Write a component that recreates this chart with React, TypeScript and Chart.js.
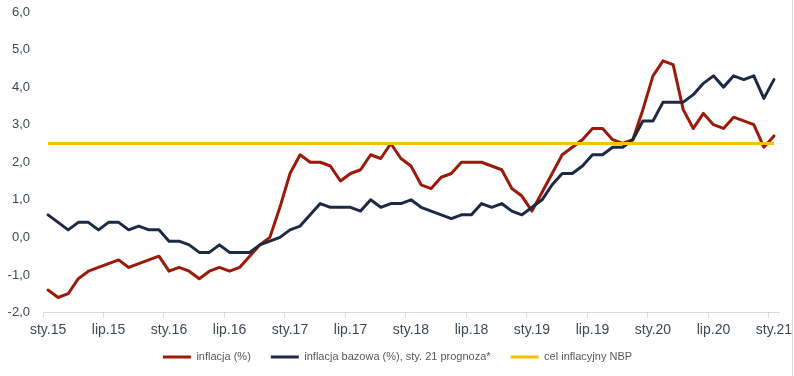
import React, { useEffect, useRef } from "react";
import { Chart, registerables } from "chart.js";

Chart.register(...registerables);

const monthNames = ["sty", "lut", "mar", "kwi", "maj", "cze", "lip", "sie", "wrz", "paź", "lis", "gru"];
const yearNames = ["15", "16", "17", "18", "19", "20", "21"];
const categories: string[] = yearNames
  .flatMap((y) => monthNames.map((m) => `${m}.${y}`))
  .slice(0, 73);

const inflacja = [
  -1.4, -1.6, -1.5, -1.1, -0.9, -0.8, -0.7, -0.6, -0.8, -0.7, -0.6, -0.5,
  -0.9, -0.8, -0.9, -1.1, -0.9, -0.8, -0.9, -0.8, -0.5, -0.2, 0.0, 0.8,
  1.7, 2.2, 2.0, 2.0, 1.9, 1.5, 1.7, 1.8, 2.2, 2.1, 2.5, 2.1,
  1.9, 1.4, 1.3, 1.6, 1.7, 2.0, 2.0, 2.0, 1.9, 1.8, 1.3, 1.1,
  0.7, 1.2, 1.7, 2.2, 2.4, 2.6, 2.9, 2.9, 2.6, 2.5, 2.6, 3.4,
  4.3, 4.7, 4.6, 3.4, 2.9, 3.3, 3.0, 2.9, 3.2, 3.1, 3.0, 2.4,
  2.7,
];

const inflacjaBazowa = [
  0.6, 0.4, 0.2, 0.4, 0.4, 0.2, 0.4, 0.4, 0.2, 0.3, 0.2, 0.2,
  -0.1, -0.1, -0.2, -0.4, -0.4, -0.2, -0.4, -0.4, -0.4, -0.2, -0.1, 0.0,
  0.2, 0.3, 0.6, 0.9, 0.8, 0.8, 0.8, 0.7, 1.0, 0.8, 0.9, 0.9,
  1.0, 0.8, 0.7, 0.6, 0.5, 0.6, 0.6, 0.9, 0.8, 0.9, 0.7, 0.6,
  0.8, 1.0, 1.4, 1.7, 1.7, 1.9, 2.2, 2.2, 2.4, 2.4, 2.6, 3.1,
  3.1, 3.6, 3.6, 3.6, 3.8, 4.1, 4.3, 4.0, 4.3, 4.2, 4.3, 3.7,
  4.2,
];

const celInflacyjny = categories.map(() => 2.5);

const yTicks = [-2, -1, 0, 1, 2, 3, 4, 5, 6];

const FONT = "'Liberation Sans', Arial, sans-serif";
const TICK_COLOR = "#3F4756";

const legendShift = {
  id: "legendShift",
  afterLayout(chart: any) {
    const lg = chart.legend;
    if (lg) {
      lg.top -= 12;
      lg.bottom -= 12;
      lg.left += 8;
      lg.right += 8;
    }
  },
};

export default function App() {
  const canvasRef = useRef<HTMLCanvasElement | null>(null);

  useEffect(() => {
    document.body.style.margin = "0";
    const canvas = canvasRef.current;
    if (!canvas) return;
    const chart = new Chart(canvas, {
      type: "line",
      plugins: [legendShift],
      data: {
        labels: categories,
        datasets: [
          {
            label: "inflacja (%)",
            data: inflacja,
            borderColor: "#9C1A0A",
            backgroundColor: "#9C1A0A",
            borderWidth: 3,
            pointRadius: 0,
            tension: 0,
            borderJoinStyle: "round",
            borderCapStyle: "round",
            order: 3,
          },
          {
            label: "inflacja bazowa (%), sty. 21 prognoza*",
            data: inflacjaBazowa,
            borderColor: "#1E2A45",
            backgroundColor: "#1E2A45",
            borderWidth: 3,
            pointRadius: 0,
            tension: 0,
            borderJoinStyle: "round",
            borderCapStyle: "round",
            order: 2,
          },
          {
            label: "cel inflacyjny NBP",
            data: celInflacyjny,
            borderColor: "#FFC000",
            backgroundColor: "#FFC000",
            borderWidth: 3,
            pointRadius: 0,
            tension: 0,
            order: 1,
          },
        ],
      },
      options: {
        animation: false,
        responsive: false,
        devicePixelRatio: 1,
        layout: { padding: { top: 12, right: 15, bottom: -8.5, left: 0 } },
        plugins: {
          tooltip: { enabled: false },
          legend: {
            position: "bottom",
            labels: {
              font: { family: FONT, size: 11 },
              color: "#595959",
              boxWidth: 28,
              boxHeight: 3,
              padding: 20,
              sort: (a: any, b: any) => a.datasetIndex - b.datasetIndex,
              generateLabels: (c: any) =>
                Chart.defaults.plugins.legend.labels
                  .generateLabels(c)
                  .map((l: any) => ({ ...l, lineWidth: 0, fillStyle: l.strokeStyle })),
            },
          },
        },
        scales: {
          x: {
            type: "category",
            offset: true,
            afterFit: (s: any) => {
              s.height = 31;
            },
            grid: {
              offset: true,
              drawOnChartArea: false,
              drawTicks: true,
              tickLength: 5,
              color: (ctx: any) => (ctx.index % 6 === 0 ? "#D9D9D9" : "rgba(0,0,0,0)"),
            },
            border: { display: true, color: "#D9D9D9", width: 1 },
            ticks: {
              autoSkip: false,
              maxRotation: 0,
              minRotation: 0,
              padding: 0,
              color: TICK_COLOR,
              font: { family: FONT, size: 14, lineHeight: "25px" },
              callback: (_v: any, i: number) => (i % 6 === 0 ? categories[i] : ""),
            },
          },
          y: {
            min: -2,
            max: 6,
            afterFit: (s: any) => {
              s.width = 43;
            },
            afterBuildTicks: (s: any) => {
              s.ticks = yTicks.map((v) => ({ value: v }));
            },
            grid: { display: false, drawTicks: true, tickLength: 13 },
            border: { display: false },
            ticks: {
              padding: 0,
              color: TICK_COLOR,
              font: { family: FONT, size: 13 },
              callback: (v: any) => Number(v).toFixed(1).replace(".", ","),
            },
          },
        },
      },
    });
    return () => chart.destroy();
  }, []);

  return (
    <div style={{ position: "relative", width: 794, height: 376, background: "#fff" }}>
      <canvas ref={canvasRef} width={794} height={376} style={{ display: "block", width: 794, height: 376 }} />
      <div style={{ position: "absolute", left: 792, top: 0, width: 1, height: 376, background: "#D9D9D9" }} />
    </div>
  );
}
